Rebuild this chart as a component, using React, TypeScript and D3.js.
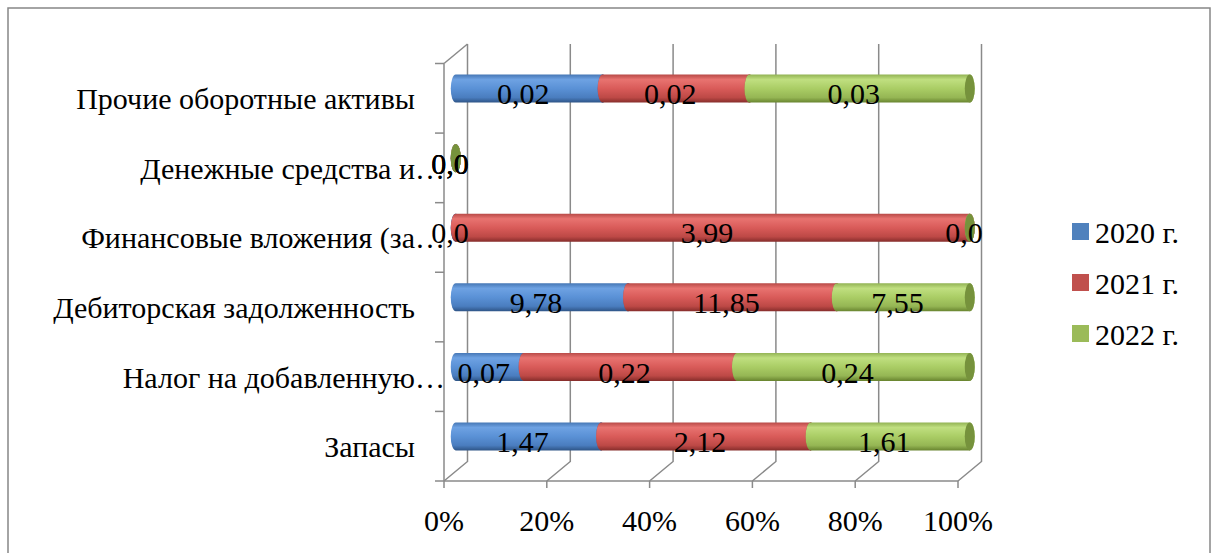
import React from "react";
import * as d3 from "d3";

// Data (Excel order: first category at the bottom)
const categories = [
  "Запасы",
  "Налог на добавленную…",
  "Дебиторская задолженность",
  "Финансовые вложения (за…",
  "Денежные средства и…",
  "Прочие оборотные активы",
];
const seriesNames = ["2020 г.", "2021 г.", "2022 г."];
const values2020 = [1.47, 0.07, 9.78, 0.0, 0.0, 0.02];
const values2021 = [2.12, 0.22, 11.85, 3.99, 0.0, 0.02];
const values2022 = [1.61, 0.24, 7.55, 0.0, 0.0, 0.03];
const tickValues = [0, 0.2, 0.4, 0.6, 0.8, 1];

const seriesValues = [values2020, values2021, values2022];
const flatColors = ["#4F81BD", "#C0504D", "#9BBB59"];
const capColors = ["#3b6aa3", "#a54340", "#76923c"];
const gradStops = [
  ["#4677b5", "#6ea2e3", "#5a91d6", "#4a7dbf", "#2e5486"],
  ["#b84a47", "#e87370", "#d95b59", "#bd4946", "#862d2b"],
  ["#92b354", "#c0df80", "#aacd65", "#95b654", "#68842f"],
];

const W = 1211;
const H = 553;
const FONT = "Liberation Serif, Tinos, Times New Roman, DejaVu Serif, Noto Serif, serif";
const DX = 23.5; // depth offset x
const DY = -19.5; // depth offset y
const RY = 14;
const RX = 5;

const fmt = (v: number) => (v === 0 ? "0,0" : d3.format(".2f")(v).replace(".", ","));

export default function App() {
  const x = d3.scaleLinear().domain([0, 1]).range([444, 958]);
  const y = d3.scaleBand<string>().domain(categories).range([481, 63.5]);
  const bw = y.bandwidth();
  const bandCenter = (c: string) => (y(c) as number) + bw / 2;

  const gridColor = "#8a8a8a";

  const stacked = categories.map((c, i) => {
    const vals = seriesValues.map((s) => s[i]);
    const total = d3.sum(vals);
    let acc = 0;
    return vals.map((v, si) => {
      const p0 = total ? acc / total : 0;
      acc += v;
      const p1 = total ? acc / total : 0;
      return { c, si, v, p0, p1 };
    });
  });

  const segPath = (x1: number, x2: number, yc: number) => {
    const t = yc - RY;
    const b = yc + RY;
    return `M${x1},${t} L${x2},${t} A${RX},${RY} 0 0 1 ${x2},${b} L${x1},${b} A${RX},${RY} 0 0 1 ${x1},${t} Z`;
  };

  const textStyle = { fontFamily: FONT, fontSize: 30 };

  return (
    <div style={{ position: "fixed", left: 0, top: 0 }}>
      <svg width={W} height={H} style={{ display: "block", background: "#fff" }}>
        <defs>
          {gradStops.map((st, i) => (
            <linearGradient key={i} id={`g${i}`} x1="0" y1="0" x2="0" y2="1">
              <stop offset="0%" stopColor={st[0]} />
              <stop offset="18%" stopColor={st[1]} />
              <stop offset="50%" stopColor={st[2]} />
              <stop offset="82%" stopColor={st[3]} />
              <stop offset="100%" stopColor={st[4]} />
            </linearGradient>
          ))}
        </defs>
        <rect x={8} y={8} width={1202} height={560} fill="#fff" stroke="#878787" strokeWidth={1.5} />

        {/* walls / gridlines */}
        <g stroke={gridColor} strokeWidth={1.5} fill="none">
          {tickValues.map((t) => (
            <path key={t} d={`M${x(t)},481 L${x(t) + DX},${481 + DY} L${x(t) + DX},44`} />
          ))}
          <path d={`M${x(0)},63.5 L${x(0) + DX},44`} />
          <line x1={x(0)} y1={63.5} x2={x(0)} y2={481} />
          <line x1={435} y1={481} x2={x(1)} y2={481} />
          {tickValues.map((t) => (
            <line key={t} x1={x(t)} y1={481} x2={x(t)} y2={488} />
          ))}
          {categories.map((c) => (
            <line key={c} x1={435} x2={x(0)} y1={y(c) as number} y2={y(c) as number} />
          ))}
        </g>

        {/* cylinders */}
        {stacked.map((row) => {
          const yc = bandCenter(row[0].c) + DY / 2;
          return (
            <g key={row[0].c}>
              {row.map((s) => {
                const x1 = x(s.p0) + DX / 2;
                const x2 = x(s.p1) + DX / 2;
                return (
                  <g key={s.si}>
                    <path d={segPath(x1, x2, yc)} fill={`url(#g${s.si})`} />
                    <ellipse cx={x2} cy={yc} rx={RX} ry={RY} fill={capColors[s.si]} />
                  </g>
                );
              })}
            </g>
          );
        })}

        {/* data labels */}
        <g style={textStyle} fill="#000" textAnchor="middle">
          {stacked.map((row) =>
            row.map((s) => (
              <text key={row[0].c + s.si} x={x((s.p0 + s.p1) / 2) + DX / 4} y={bandCenter(s.c) + 6}>
                {fmt(s.v)}
              </text>
            ))
          )}
        </g>

        {/* category labels */}
        <g style={textStyle} fill="#000">
          {categories.map((c) => {
            const trunc = c.endsWith("…");
            const main = trunc ? c.slice(0, -1) : c;
            return (
              <g key={c}>
                <text x={415} y={bandCenter(c) + 11} textAnchor="end">
                  {main}
                </text>
                {trunc && (
                  <text x={415} y={bandCenter(c) + 11} textAnchor="start">
                    …
                  </text>
                )}
              </g>
            );
          })}
        </g>

        {/* x tick labels */}
        <g style={textStyle} fill="#000" textAnchor="middle">
          {tickValues.map((t) => (
            <text key={t} x={x(t)} y={531}>
              {d3.format(".0%")(t)}
            </text>
          ))}
        </g>

        {/* legend */}
        <g style={textStyle} fill="#000">
          {seriesNames.map((n, i) => (
            <g key={n} transform={`translate(1072, ${223 + i * 51})`}>
              <rect x={0} y={0} width={17} height={17} fill={flatColors[i]} />
              <text x={23} y={20}>
                {n}
              </text>
            </g>
          ))}
        </g>
      </svg>
    </div>
  );
}
